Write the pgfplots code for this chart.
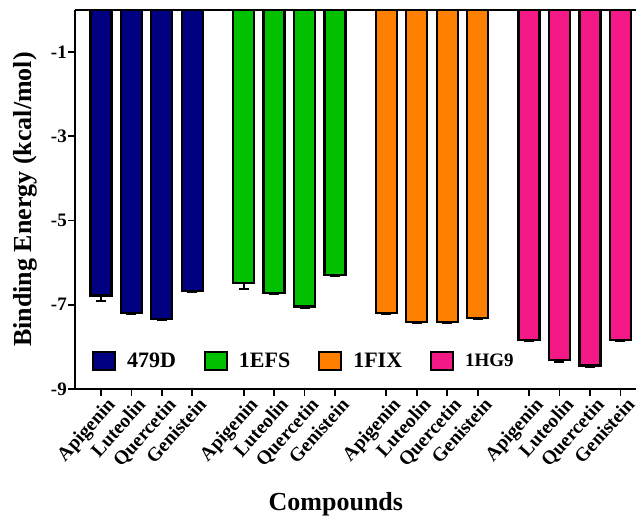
\documentclass[border=0pt]{standalone}
\usepackage{pgfplots}
\pgfplotsset{compat=1.18}
\usepackage{fontspec}
\setmainfont{Liberation Serif}
\definecolor{cblue}{RGB}{0,0,128}
\definecolor{cgreen}{RGB}{0,192,0}
\definecolor{corange}{RGB}{255,128,0}
\definecolor{cpink}{RGB}{245,25,135}
\begin{document}
\begin{tikzpicture}
\begin{axis}[
 scale only axis, width=561pt, height=379pt,
 xmin=-0.85, xmax=17.55, ymin=-9, ymax=0,
 axis x line*=bottom, axis y line*=left,
 axis line style={line width=1.8pt,-},
 ybar, bar width=21pt, bar shift=0pt,
 ytick={-1,-3,-5,-7,-9}, yticklabels={-1,-3,-5,-7,-9},
 xtick={0,1,2,3,4.68,5.68,6.68,7.68,9.36,10.36,11.36,12.36,14.04,15.04,16.04,17.04},
 xticklabels={Apigenin,Luteolin,Quercetin,Genistein,Apigenin,Luteolin,Quercetin,Genistein,Apigenin,Luteolin,Quercetin,Genistein,Apigenin,Luteolin,Quercetin,Genistein},
 tick style={line width=1.8pt, black}, tick align=outside, major tick length=7pt,
 xticklabel style={rotate=48, anchor=north east, inner sep=0pt, xshift=3pt, yshift=-4pt, font=\fontsize{19.5}{19.5}\selectfont\bfseries},
 yticklabel style={inner sep=1pt, font=\fontsize{19}{19}\selectfont\bfseries},
 ylabel={Binding Energy (kcal/mol)}, xlabel={Compounds},
 ylabel shift=9pt,
 xlabel style={at={(rel axis cs:0.465,0)}, anchor=base, yshift=-122pt},
 label style={font=\fontsize{26}{26}\selectfont\bfseries},
 clip=false,
 legend columns=4,
 legend style={draw=none, fill=none, inner sep=0pt, at={(rel axis cs:0.03,0.073)}, anchor=west,
   font=\fontsize{22}{22}\selectfont\bfseries,
   /tikz/every odd column/.append style={column sep=9pt},
   /tikz/every even column/.append style={column sep=26pt}},
 legend image code/.code={\draw[#1, line width=2pt] (0pt,-9pt) rectangle (22pt,9pt);},
]
\addplot[fill=cblue, draw=black, line width=2.2pt, error bars/.cd, y dir=minus, y explicit,
  error bar style={line width=1.8pt, black}, error mark options={rotate=90, black, mark size=5pt, line width=1.8pt}]
  table[x=x, y=y, y error=e] {
x y e
0 -6.78 0.13
1 -7.19 0.03
2 -7.33 0.03
3 -6.67 0.03
};
\addlegendentry{479D}
\addplot[fill=cgreen, draw=black, line width=2.2pt, error bars/.cd, y dir=minus, y explicit,
  error bar style={line width=1.8pt, black}, error mark options={rotate=90, black, mark size=5pt, line width=1.8pt}]
  table[x=x, y=y, y error=e] {
x y e
4.68 -6.49 0.13
5.68 -6.72 0.03
6.68 -7.04 0.04
7.68 -6.29 0.03
};
\addlegendentry{1EFS}
\addplot[fill=corange, draw=black, line width=2.2pt, error bars/.cd, y dir=minus, y explicit,
  error bar style={line width=1.8pt, black}, error mark options={rotate=90, black, mark size=5pt, line width=1.8pt}]
  table[x=x, y=y, y error=e] {
x y e
9.36 -7.20 0.03
10.36 -7.40 0.03
11.36 -7.40 0.03
12.36 -7.31 0.03
};
\addlegendentry{1FIX}
\addplot[fill=cpink, draw=black, line width=2.2pt, error bars/.cd, y dir=minus, y explicit,
  error bar style={line width=1.8pt, black}, error mark options={rotate=90, black, mark size=5pt, line width=1.8pt}]
  table[x=x, y=y, y error=e] {
x y e
14.04 -7.83 0.03
15.04 -8.32 0.03
16.04 -8.44 0.03
17.04 -7.83 0.03
};
\addlegendentry{\fontsize{19}{19}\selectfont 1HG9}
\draw[line width=1.8pt] (rel axis cs:0,1) -- (rel axis cs:1,1);
\path (rel axis cs:0,0) ++(-75pt,-132pt) (rel axis cs:1,1) ++(1pt,10pt);
\end{axis}
\end{tikzpicture}
\end{document}
